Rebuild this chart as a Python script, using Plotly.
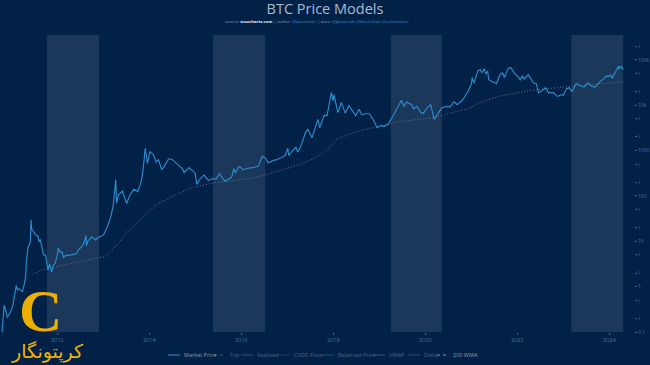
import plotly.graph_objects as go

# ---------------- data ----------------
price_dates = [
 "2010-07-17","2010-08-01","2010-09-01","2010-10-01","2010-10-20","2010-11-06","2010-11-20","2010-12-01","2010-12-15",
 "2011-01-01","2011-01-15","2011-02-01","2011-02-10","2011-02-20","2011-03-01","2011-03-15","2011-04-01","2011-04-15","2011-04-25",
 "2011-05-01","2011-05-15","2011-05-25","2011-06-01","2011-06-08","2011-06-12","2011-06-20","2011-07-01","2011-07-15","2011-08-01",
 "2011-08-10","2011-08-20","2011-09-01","2011-09-15","2011-10-01","2011-10-20","2011-11-01","2011-11-18","2011-12-01","2011-12-15","2011-12-31",
 "2012-01-10","2012-01-25","2012-02-10","2012-02-20","2012-03-10","2012-04-01","2012-05-01","2012-06-01","2012-06-20","2012-07-15",
 "2012-08-01","2012-08-17","2012-08-20","2012-09-01","2012-10-01","2012-11-01","2012-12-01",
 "2013-01-01","2013-02-01","2013-03-01","2013-03-20","2013-04-10","2013-04-16","2013-05-01","2013-06-01","2013-07-05","2013-08-01",
 "2013-09-01","2013-10-01","2013-10-25","2013-11-10","2013-11-30","2013-12-18","2013-12-31",
 "2014-01-05","2014-02-01","2014-02-25","2014-03-15","2014-04-10","2014-05-01","2014-06-03","2014-07-01","2014-08-18","2014-09-20",
 "2014-10-05","2014-11-12","2014-12-01","2014-12-31",
 "2015-01-14","2015-02-01","2015-03-10","2015-04-15","2015-05-15","2015-06-15","2015-07-12","2015-08-24","2015-09-15","2015-10-15",
 "2015-11-04","2015-11-15","2015-12-15",
 "2016-01-15","2016-02-15","2016-03-15","2016-04-15","2016-05-15","2016-06-17","2016-07-15","2016-08-02","2016-09-15","2016-10-15",
 "2016-11-15","2016-12-15",
 "2017-01-05","2017-01-12","2017-02-15","2017-03-10","2017-03-25","2017-04-15","2017-05-25","2017-06-12","2017-07-16","2017-08-01",
 "2017-09-01","2017-09-15","2017-10-20","2017-11-12","2017-11-28","2017-12-17","2017-12-30",
 "2018-01-06","2018-02-06","2018-03-05","2018-04-06","2018-05-05","2018-06-28","2018-07-25","2018-08-14","2018-09-15","2018-10-15",
 "2018-11-20","2018-12-15",
 "2019-01-15","2019-02-08","2019-03-15","2019-04-10","2019-05-15","2019-06-26","2019-07-17","2019-08-06","2019-09-15","2019-09-30",
 "2019-10-26","2019-11-25","2019-12-17",
 "2020-01-15","2020-02-13","2020-03-12","2020-04-15","2020-05-10","2020-06-15","2020-07-15","2020-08-17","2020-09-10","2020-10-21",
 "2020-11-15","2020-12-01","2020-12-31",
 "2021-01-08","2021-01-22","2021-02-21","2021-03-13","2021-03-25","2021-04-14","2021-04-25","2021-05-10","2021-05-19","2021-06-22",
 "2021-07-20","2021-08-15","2021-09-06","2021-09-21","2021-10-20","2021-11-10","2021-11-28","2021-12-15",
 "2022-01-05","2022-01-24","2022-02-10","2022-02-24","2022-03-29","2022-04-15","2022-05-10","2022-06-01","2022-06-18","2022-07-15",
 "2022-08-13","2022-09-06","2022-10-15","2022-11-09","2022-11-21","2022-12-15",
 "2023-01-01","2023-01-25","2023-02-16","2023-03-10","2023-04-14","2023-05-15","2023-06-15","2023-07-13","2023-08-18","2023-09-11",
 "2023-10-24","2023-11-15","2023-12-08","2023-12-25",
 "2024-01-11","2024-01-23","2024-02-15","2024-03-14","2024-03-20","2024-03-28","2024-04-08","2024-04-17","2024-04-20",
]
price_values = [
 0.05,0.06,0.06,0.06,0.10,0.39,0.28,0.21,0.24,
 0.30,0.40,0.72,1.05,0.85,0.90,0.86,0.78,1.15,1.60,
 3.4,7.5,8.4,9.5,29.6,19,17.5,15.4,13.7,13.1,
 9.8,11,8.2,5.0,5.0,2.3,3.2,2.1,3.0,3.2,4.7,
 7.0,5.7,5.8,4.4,4.9,4.9,5.0,5.3,6.6,7.6,
 9.4,13.5,8.0,10.2,12.4,10.8,12.6,
 13.5,20.4,34,60,230,70,105,128,68,105,
 140,125,190,320,1130,520,730,
 950,830,560,630,380,450,660,640,470,400,
 330,420,380,320,
 180,225,290,220,240,235,310,210,230,255,
 400,320,450,
 380,405,415,430,455,760,665,540,610,640,
 710,780,
 1130,780,1010,1190,930,1180,2500,2950,1930,2750,
 4900,3200,6000,5900,9900,19300,12500,
 17100,6900,11500,6700,9800,5900,8200,6200,6500,6500,
 4500,3200,
 3600,3400,3900,5200,8000,12900,9400,11800,10300,8300,
 9500,7000,6600,
 8800,10300,4900,6800,8700,9400,9200,12000,10300,12900,
 15900,19200,29000,
 40700,30800,57400,61200,52000,63500,49000,56500,36700,32500,
 29800,47000,51700,41000,65900,67500,57200,48500,
 43500,36200,44000,38000,47500,40500,31000,30000,19000,20800,
 24400,18800,19100,16000,15800,17300,
 16600,23000,24500,20200,30400,27200,25100,31400,26100,25100,
 34500,37800,44000,43500,
 46600,39500,52000,73000,62000,70800,71600,61300,64900,
]

wma_dates = [
 "2011-06-25","2011-09-15","2012-01-01","2012-07-25","2013-01-15","2013-04-15","2013-07-20","2013-11-15",
 "2014-03-01","2014-08-01","2014-12-15","2015-06-01","2015-10-20","2016-03-01","2016-07-20","2016-12-01",
 "2017-04-15","2017-08-15","2017-11-15","2018-02-01","2018-05-01","2018-09-01","2019-01-01","2019-06-15",
 "2019-11-01","2020-03-01","2020-08-01","2020-12-01","2021-04-01","2021-08-15","2022-01-01","2022-05-15",
 "2023-02-01","2023-10-20","2024-04-20",
]
wma_values = [
 1.9,2.4,2.8,3.6,4.6,8.0,17,35,
 65,107,155,195,220,240,295,380,
 500,700,1050,1800,2300,2900,3400,4400,
 4900,5300,6900,8300,12000,16000,18700,21800,
 25600,29700,33000,
]

band_starts = ["2011-10-12", "2015-05-22", "2019-04-04", "2023-03-05"]
band_ends = ["2012-11-28", "2016-07-09", "2020-05-11", "2024-04-20"]

legend_names = ["Market Price", "Top", "Realised", "CVDD Floor", "Balanced Price", "VWAP", "Delta", "200 WMA"]
legend_shown = [True, False, False, False, False, False, False, True]

# ---------------- styles ----------------
BG = "#022147"
PRICE_COLOR = "#2b90d2"
WMA_COLOR = "#6c7b8c"
legend_colors = ["#2b90d2", "#7d8a99", "#7d8a99", "#5a3fa6", "#2a8fa0", "#8a97a6", "#6f7d8c", "#8a97a6"]
legend_dash = ["solid", "dot", "solid", "solid", "solid", "solid", "solid", "dot"]
legend_line_x = [168, 214, 241, 278, 322, 373, 408, 437]

W, H = 650, 365
ML, MR, MT, MB = 0, 16, 35, 33
PW, PH = W - ML - MR, H - MT - MB

def px(x):
    return (x - ML) / PW

def py(y):
    return (H - MB - y) / PH

fig = go.Figure()

fig.add_trace(go.Scatter(x=wma_dates, y=wma_values, mode="lines", name="200 WMA",
                         line=dict(color=WMA_COLOR, width=0.9, dash="1px,2px"), showlegend=False))
fig.add_trace(go.Scatter(x=price_dates, y=price_values, mode="lines", name="Market Price",
                         line=dict(color=PRICE_COLOR, width=1.1), showlegend=False))

shapes = []
for s, e in zip(band_starts, band_ends):
    shapes.append(dict(type="rect", xref="x", yref="paper", x0=s, x1=e, y0=0, y1=1,
                       fillcolor="rgba(255,255,255,0.10)", line=dict(width=0), layer="below"))

annotations = []
# manual legend
ly = 355
for name, shown, col, dash, lx in zip(legend_names, legend_shown, legend_colors, legend_dash, legend_line_x):
    op = 1.0 if shown else 0.45
    shapes.append(dict(type="line", xref="paper", yref="paper", x0=px(lx), x1=px(lx + 12),
                       y0=py(ly), y1=py(ly), line=dict(color=col, width=1, dash=dash), opacity=op))
    annotations.append(dict(xref="paper", yref="paper", x=px(lx + 14), y=py(ly), text=name,
                            showarrow=False, xanchor="left", yanchor="middle",
                            font=dict(size=5.5, color="#8c9bb0" if shown else "#4f6585", family="Open Sans")))

# subtitle
annotations.append(dict(
    xref="paper", yref="paper", x=px(316), y=py(21), showarrow=False, xanchor="center", yanchor="middle",
    text=("<span style='color:#8c9bb0'>source: </span><b><span style='color:#e8eef5'>woocharts.com</span></b>"
          "<span style='color:#8c9bb0'> | author: </span><span style='color:#2f8fd6'>@woonomic</span>"
          "<span style='color:#8c9bb0'> | data: </span><span style='color:#2f8fd6'>@glassnode @blockchain @coinmetrics</span>"),
    font=dict(size=4.2, family="Open Sans")))

# watermark logo
annotations.append(dict(xref="paper", yref="paper", x=px(40), y=py(311), text="<b>C</b>", showarrow=False,
                        xanchor="center", yanchor="middle",
                        font=dict(size=60, color="#eeb000", family="Liberation Serif")))
annotations.append(dict(xref="paper", yref="paper", x=px(47), y=py(351), text="کرپتونگار", showarrow=False,
                        xanchor="center", yanchor="middle",
                        font=dict(size=19, color="#f0b400", family="DejaVu Sans")))

fig.update_layout(
    width=W, height=H,
    margin=dict(l=ML, r=MR, t=MT, b=MB, autoexpand=False),
    paper_bgcolor=BG, plot_bgcolor=BG,
    showlegend=False,
    title=dict(text="BTC Price Models", x=0.5, xanchor="center", y=1 - 9 / H, yanchor="middle",
               font=dict(size=14.5, color="#a9bbd0", family="Open Sans")),
    xaxis=dict(type="date", range=["2010-10-04", "2024-07-15"], showgrid=False, zeroline=False,
               showline=False, dtick="M24", tick0="2012-01-01", tickformat="%Y",
               ticks="outside", ticklen=2, tickcolor="#3f6690",
               tickfont=dict(size=5.5, color="#4f7196", family="Open Sans")),
    yaxis=dict(type="log", side="right", range=[-1, 5.55], showgrid=False, zeroline=False,
               showline=False, dtick="D2", ticks="outside", ticklen=2, tickcolor="#3f6690",
               tickfont=dict(size=5, color="#4f7196", family="Open Sans")),
    shapes=shapes,
    annotations=annotations,
)

fig.write_html("out.html", config={"displayModeBar": False},
               post_script="document.body.style.margin='0';document.body.style.background='#022147';")
